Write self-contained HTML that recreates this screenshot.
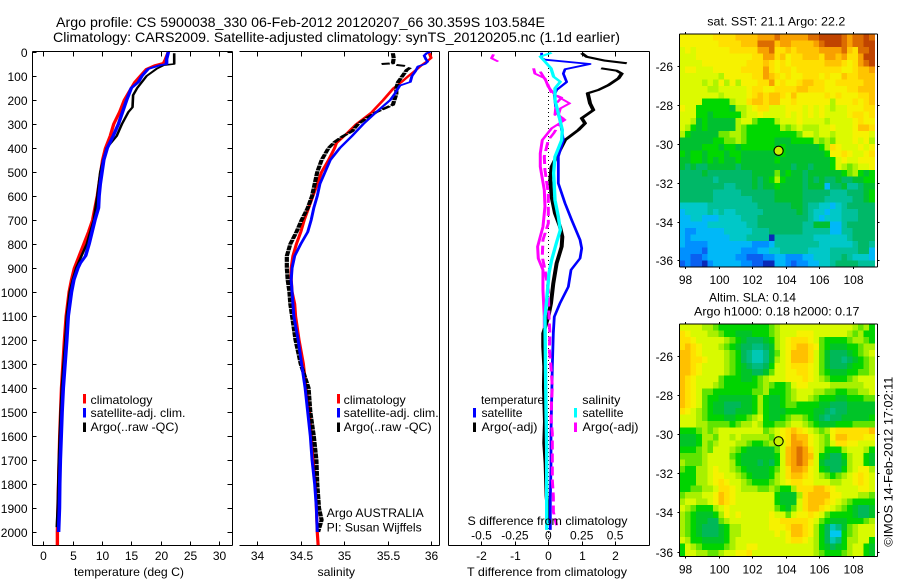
<!DOCTYPE html>
<html><head><meta charset="utf-8"><title>Argo profile</title>
<style>
html,body{margin:0;padding:0;background:#fff}
svg{display:block}
text{font-family:"Liberation Sans",sans-serif;font-size:12px;fill:#000}
.t{font-size:14px}
</style></head><body>
<svg id="chart" xmlns="http://www.w3.org/2000/svg" width="900" height="580" viewBox="0 0 900 580">
<rect x="0" y="0" width="900" height="580" fill="#fff"/>
<text class="t" x="56" y="27" textLength="489" lengthAdjust="spacingAndGlyphs">Argo profile: CS 5900038_330 06-Feb-2012 20120207_66 30.359S 103.584E</text>
<text class="t" x="53" y="42" textLength="567" lengthAdjust="spacingAndGlyphs">Climatology: CARS2009. Satellite-adjusted climatology: synTS_20120205.nc (1.1d earlier)</text>

<g id="axes1"></g>
<g id="axes2"></g>
<g id="axes3"></g>
<g id="lines1"></g>
<g id="lines2"></g>
<g id="lines3"></g>

<text x="74" y="576" textLength="110" lengthAdjust="spacingAndGlyphs">temperature (deg C)</text>
<text x="317.5" y="576" textLength="37.5" lengthAdjust="spacingAndGlyphs">salinity</text>
<text x="467" y="576" textLength="160" lengthAdjust="spacingAndGlyphs">T difference from climatology</text>
<text x="467.5" y="525" textLength="160" lengthAdjust="spacingAndGlyphs">S difference from climatology</text>

<g>
<rect x="83" y="394" width="3" height="9.5" fill="#f00"/>
<text x="90.5" y="404" textLength="62" lengthAdjust="spacingAndGlyphs">climatology</text>
<rect x="83" y="408" width="3" height="9.5" fill="#00f"/>
<text x="90.5" y="417" textLength="95" lengthAdjust="spacingAndGlyphs">satellite-adj. clim.</text>
<rect x="83" y="422.5" width="3" height="9.5" fill="#000"/>
<text x="90.5" y="431" textLength="88" lengthAdjust="spacingAndGlyphs">Argo(..raw -QC)</text>
</g>
<g>
<rect x="337" y="394" width="3" height="9.5" fill="#f00"/>
<text x="343.7" y="404" textLength="62" lengthAdjust="spacingAndGlyphs">climatology</text>
<rect x="337" y="408" width="3" height="9.5" fill="#00f"/>
<text x="343.7" y="417" textLength="95" lengthAdjust="spacingAndGlyphs">satellite-adj. clim.</text>
<rect x="337" y="422.5" width="3" height="9.5" fill="#000"/>
<text x="343.7" y="431" textLength="88" lengthAdjust="spacingAndGlyphs">Argo(..raw -QC)</text>
<text x="326.7" y="517" textLength="97" lengthAdjust="spacingAndGlyphs">Argo AUSTRALIA</text>
<text x="326.7" y="531.5" textLength="95" lengthAdjust="spacingAndGlyphs">PI: Susan Wijffels</text>
</g>

<g id="maps"></g>

<text x="707.3" y="25.7" textLength="138" lengthAdjust="spacingAndGlyphs">sat. SST: 21.1 Argo: 22.2</text>
<text x="709" y="301.7" textLength="87" lengthAdjust="spacingAndGlyphs">Altim. SLA: 0.14</text>
<text x="694" y="315.7" textLength="165.5" lengthAdjust="spacingAndGlyphs">Argo h1000: 0.18 h2000: 0.17</text>
<text transform="translate(892.7,546.7) rotate(-90)" x="0" y="0" textLength="170" lengthAdjust="spacingAndGlyphs">©IMOS 14-Feb-2012 17:02:11</text>

<g>
<text x="481" y="404" textLength="63" lengthAdjust="spacingAndGlyphs">temperature</text>
<text x="582.3" y="404" textLength="38" lengthAdjust="spacingAndGlyphs">salinity</text>
<rect x="473" y="408" width="3" height="9.5" fill="#00f"/>
<text x="481.5" y="417" textLength="41" lengthAdjust="spacingAndGlyphs">satellite</text>
<rect x="473" y="422.5" width="3" height="9.5" fill="#000"/>
<text x="481.5" y="431" textLength="56" lengthAdjust="spacingAndGlyphs">Argo(-adj)</text>
<rect x="574" y="408" width="3" height="9.5" fill="#0ff"/>
<text x="582.5" y="417" textLength="41" lengthAdjust="spacingAndGlyphs">satellite</text>
<rect x="574" y="422.5" width="3" height="9.5" fill="#f0f"/>
<text x="582.5" y="431" textLength="56" lengthAdjust="spacingAndGlyphs">Argo(-adj)</text>
</g>
</svg>
<script>
const depthTicks=[0,100,200,300,400,500,600,700,800,900,1000,1100,1200,1300,1400,1500,1600,1700,1800,1900,2000];
const tempTicks=[0,5,10,15,20,25,30];
const salTicks=[34,34.5,35,35.5,36];
const salTickLabels=["34","34.5","35","35.5","36"];
const tDiffTicks=[-2,-1,0,1,2];
const sDiffTicks=[-0.5,-0.25,0,0.25,0.5];
const sDiffTickLabels=["-0.5","-0.25","0","0.25","0.5"];
const lonTicks=[98,100,102,104,106,108];
const latTicks=[-26,-28,-30,-32,-34,-36];

const tempClimD=[0,30,45,55,70,100,125,150,200,250,300,350,400,450,500,600,700,750,800,850,900,950,1000,1100,1200,1300,1400,1500,1600,1700,1800,1900,2000,2055];
const tempClim=[21.3,20.8,20.5,19,17.6,16.5,15.6,15,13.8,13,12,11.4,10.6,10.1,9.8,9.2,8.4,7.7,6.9,6.1,5.3,4.8,4.4,3.9,3.6,3.35,3.1,2.95,2.8,2.7,2.6,2.5,2.4,2.4];
const tempSatD=[0,30,50,55,70,100,125,150,200,250,300,350,400,450,500,550,600,650,700,750,800,850,880,900,950,1000,1100,1200,1300,1400,1500,1600,1700,1800,1900,2000];
const tempSat=[21.3,21,21,19.9,17.9,16.8,16.2,15,14.2,13.5,12.8,11.9,10.9,10.3,10,9.7,9.5,9.4,8.8,8.3,7.8,7.2,6.3,5.9,5.2,4.8,4.25,4,3.7,3.4,3.2,3.05,2.9,2.8,2.75,2.6];
const tempArgoD=[5,50,55,70,100,125,150,180,230,250,300,350,400,450,500,600,700,800,850,900,950,1000,1100,1200,1300,1400,1500,1600,1700,1800,1900,1980];
const tempArgo=[22.3,22.3,20.5,19.3,17.6,16.8,16,15.3,15.2,14.5,13.4,12.5,10.8,10.2,9.7,9.2,8.6,7.4,6.5,5.6,5,4.5,4,3.75,3.45,3.15,2.95,2.8,2.65,2.55,2.45,2.3];

const salClimD=[5,25,40,55,80,100,125,150,200,250,300,350,380,400,450,500,550,600,650,700,750,800,850,900,950,1000,1050,1100,1200,1300,1400,1500,1600,1700,1800,1900,2000,2055];
const salClim=[35.98,36,35.95,35.89,35.81,35.74,35.66,35.57,35.45,35.32,35.14,35,34.91,34.89,34.82,34.74,34.69,34.64,34.59,34.54,34.5,34.45,34.41,34.39,34.39,34.4,34.43,34.44,34.48,34.53,34.56,34.6,34.62,34.64,34.67,34.68,34.69,34.7];
const salSatD=[0,5,15,30,40,50,60,80,100,125,140,175,200,250,300,350,400,450,500,550,600,650,700,750,800,850,900,950,1000,1100,1200,1300,1400,1500,1600,1700,1800,1900,2000];
const salSat=[35.99,35.95,35.92,35.94,35.96,35.93,35.85,35.82,35.78,35.76,35.64,35.58,35.53,35.37,35.22,35.09,34.95,34.84,34.78,34.72,34.69,34.65,34.62,34.58,34.5,34.43,34.4,34.39,34.4,34.42,34.47,34.51,34.55,34.58,34.61,34.63,34.66,34.68,34.69];
const salArgoD=[5,26,47,50,null,54,58,null,65,75,100,125,150,175,220,250,275,300,330,350,375,400,450,500,550,600,650,700,750,800,850,900,950,1000,1050,1100,1200,1300,1400,1500,1600,1700,1800,1900,1950,2000];
const salArgo=[35.56,35.57,35.56,35.43,null,35.6,35.7,null,35.76,35.72,35.67,35.62,35.6,35.6,35.56,35.37,35.26,35.16,35.09,34.99,34.89,34.82,34.74,34.69,34.66,34.63,34.58,34.51,34.45,34.38,34.34,34.34,34.35,34.37,34.38,34.4,34.44,34.5,34.59,34.61,34.65,34.68,34.69,34.71,34.74,34.7];

const dTempSatD=[3,25,32,50,72,90,125,158,179,228,283,367,436,547,630,700,783,818,860,908,978,1047,1103,1172,1311,1450,1589,1728,1866,1991];
const dTempSat=[-0.2,-0.2,-0.1,1.25,0.5,0.45,0.55,0.25,0.18,0.22,0.35,0.45,0.3,0.3,0.5,0.7,0.95,1,0.95,0.68,0.6,0.35,0.18,0.15,0.12,0.1,0.08,0.08,0.06,0.06];
const dTempArgoD=[5,20,36,47,null,68,78,90,110,138,158,172,214,242,276,297,325,367,408,478,533,603,672,728,770,811,880,964,1047,1103,1172,1228,1311,1394,1540,1630,1714,1850,1964];
const dTempArgo=[1,1.15,1.7,2.35,null,1.58,2.05,2.2,2.1,1.8,1.5,1.18,1.25,1.35,1,1.1,0.9,0.5,0.35,0.1,0.06,0.1,0.2,0.35,0.42,0.4,0.25,0.15,0.08,0,-0.15,-0.15,-0.12,-0.13,-0.1,-0.12,-0.08,-0.05,0.02];
const dSalSatD=[3,19,40,68,103,124,151,200,255,325,367,436,505,617,686,742,797,867,922,1033,1103,1450,1658,1866,1991];
const dSalSat=[0.025,-0.06,-0.025,0.02,0.04,0.09,0.05,0.05,0.075,0.105,0.1,0.05,0.04,0.05,0.075,0.09,0.06,0.025,0.005,-0.012,-0.025,-0.018,-0.012,-0.012,-0.012];
const dSalArgoD=[10,26,40,null,68,90,110,145,179,214,235,262,283,318,367,422,478,575,644,728,811,860,908,992,1103,1150];
const dSalArgo=[-0.41,-0.425,-0.375,null,-0.11,-0.1,-0.025,0,0.05,0.16,0.09,0.075,0.125,0.025,-0.045,-0.06,-0.06,-0.03,-0.025,-0.04,-0.08,-0.075,-0.04,-0.04,-0.03,-0.03];
const dSalRawD=[82,125,172,190,214,262,276,339,367,436,492,589,658,714,783,853,908,992,1103,1172,1241,1311,1394,1450,1519,1589,1644,1714,1783,1853,1916,1972];
const dSalRaw=[-0.06,-0.012,0.025,0.1,0.06,0.05,0.11,0.04,0,-0.03,-0.025,0,0,0,-0.04,-0.045,-0.025,0,0.005,0.012,0.008,0.02,0.03,0.025,0.02,0.03,0.03,0.03,0.03,0.038,0.038,0.062];

const sstGrid=[
[12,12,12,12,12,12,13,13,13,13,14,14,14,14,15,15,15,16,15,15,15,15,15,16,16,17,17,17,17,16,15,16,16,17,16],
[12,12,12,12,12,12,12,13,13,13,13,14,14,14,16,16,16,14,15,15,14,14,14,14,15,16,17,17,17,16,15,16,16,17,17],
[11,12,11,12,12,12,12,12,12,13,13,13,13,13,15,15,16,13,13,14,13,14,14,14,14,15,15,15,15,16,14,13,16,16,17],
[11,11,11,12,12,12,12,12,12,12,12,12,12,13,13,15,15,13,14,12,13,13,14,14,14,13,15,15,14,15,13,13,15,17,17],
[11,11,11,11,12,12,12,12,12,12,12,12,13,13,13,14,13,12,13,12,13,13,13,13,13,13,14,14,14,13,12,13,15,16,17],
[11,12,12,11,11,11,12,12,12,12,12,13,13,13,13,15,13,12,13,13,12,13,13,13,13,13,13,13,13,12,12,13,14,14,15],
[11,11,11,11,11,11,11,10,12,12,12,12,12,13,13,15,14,13,12,13,12,12,13,13,13,12,13,12,12,14,13,13,14,14,14],
[11,11,11,11,10,11,10,12,10,12,10,12,12,12,13,13,15,12,13,12,12,13,14,14,13,13,12,12,13,13,13,13,13,14,14],
[11,11,11,11,11,10,10,11,11,11,11,11,12,13,13,12,12,13,13,13,13,14,14,13,13,13,12,12,12,12,13,13,14,14,14],
[11,11,11,11,11,11,11,10,11,11,11,11,12,13,14,13,14,14,13,12,14,12,12,12,12,12,13,12,13,12,12,12,13,13,14],
[11,11,11,11,8,8,8,8,8,10,11,11,13,14,14,13,14,14,12,12,13,12,12,12,12,12,12,10,12,12,12,13,12,13,14],
[12,11,11,8,8,8,8,8,8,7,10,10,11,12,13,13,11,11,11,12,12,12,11,12,11,12,11,10,11,11,12,12,12,13,13],
[11,11,11,8,8,7,8,8,8,8,8,10,11,11,12,11,11,11,11,12,11,12,11,12,11,12,11,11,11,11,12,13,13,12,13],
[11,11,10,7,8,7,7,7,7,7,10,11,11,9,8,8,8,10,11,11,11,12,11,11,11,11,10,11,11,11,11,12,13,12,12],
[11,10,8,7,8,7,7,7,7,7,10,9,8,8,8,8,8,8,10,9,10,11,10,10,10,11,11,12,11,11,11,12,14,14,13],
[10,8,7,7,7,7,7,9,9,10,10,9,8,8,8,8,8,8,8,8,8,9,11,11,10,11,11,10,11,11,11,12,12,12,11],
[7,7,7,7,7,7,8,8,9,9,10,9,8,8,8,8,8,7,7,7,8,8,8,8,10,9,10,9,11,11,11,12,11,12,10],
[7,7,7,7,8,8,8,7,8,8,7,8,8,8,8,8,8,7,8,7,7,7,7,7,7,8,10,13,12,11,11,11,12,11,12],
[8,7,8,8,7,8,8,8,7,8,8,7,7,7,7,7,7,7,8,7,7,7,7,7,7,7,8,12,12,13,12,11,11,12,13],
[7,7,8,8,7,8,7,8,7,7,8,7,7,7,7,7,7,8,7,7,7,7,7,7,7,7,7,8,11,12,11,11,12,12,12],
[7,6,7,6,6,7,7,7,7,7,6,7,7,7,7,7,7,7,7,7,6,7,7,6,7,7,7,8,11,10,9,10,11,11,12],
[6,6,6,6,7,6,6,6,6,6,6,6,6,7,7,7,7,9,7,8,7,7,6,7,7,7,7,7,7,8,9,10,8,7,8],
[6,6,6,6,6,6,5,6,6,6,6,6,6,7,6,7,8,10,8,7,7,7,6,7,6,7,6,6,7,6,6,7,7,8,8],
[6,6,6,6,6,6,6,6,5,5,6,6,6,7,6,7,7,8,7,7,7,7,6,7,7,7,3,6,6,7,5,5,6,7,7],
[6,6,6,6,6,6,5,5,5,5,5,6,6,6,6,6,6,7,7,7,7,7,6,6,6,6,6,5,5,5,6,6,6,7,8],
[6,6,6,6,6,6,5,5,5,5,5,5,5,6,6,6,6,7,7,7,7,7,6,6,6,6,5,5,5,5,5,6,6,7,8],
[4,4,4,4,4,5,5,5,5,5,5,5,5,5,6,6,6,6,6,6,7,7,6,5,5,4,4,3,4,5,6,6,6,6,6],
[3,4,4,4,4,5,4,5,4,4,5,5,5,5,5,6,6,6,6,6,6,7,6,5,4,4,3,4,4,5,5,5,6,6,6],
[3,3,4,4,3,3,3,4,4,4,4,5,5,5,6,6,6,6,6,6,6,6,6,5,4,3,4,4,4,5,5,5,6,6,6],
[3,3,3,3,3,4,4,4,4,4,4,4,5,5,6,6,6,6,6,6,6,6,5,5,7,7,7,3,3,5,6,6,6,6,6],
[3,2,2,3,3,3,3,3,4,4,4,4,4,5,5,5,6,6,6,6,6,6,5,5,5,5,5,3,3,5,5,6,6,6,6],
[3,2,3,3,3,3,3,3,3,4,4,4,5,5,5,5,0,5,5,5,5,5,5,5,4,4,4,4,4,4,5,6,6,6,6],
[3,2,2,2,2,3,3,3,3,3,3,3,3,2,2,2,3,5,5,5,5,5,5,5,5,4,4,4,4,4,4,5,6,6,5],
[2,2,2,2,1,3,3,3,3,3,3,2,2,2,3,3,4,4,5,5,5,5,5,4,4,4,4,5,5,5,5,5,6,6,3],
[2,2,1,1,2,3,3,3,3,3,2,2,1,1,1,2,2,3,3,2,2,2,3,3,4,4,4,5,5,6,5,4,4,4,3],
[1,2,1,1,0,2,3,3,3,3,3,2,2,1,1,0,0,3,3,2,1,2,2,3,3,4,4,5,6,6,6,6,5,5,5]
];

const slaGrid=[
[11,11,11,11,10,10,9,8,8,8,8,8,8,8,8,8,9,10,11,11,11,11,11,11,11,11,11,11,11,11,11,10,9,10,8],
[13,12,11,11,11,10,10,9,8,8,7,7,7,8,8,8,9,10,11,11,11,12,12,12,11,11,11,11,11,11,10,9,10,8,8],
[13,13,12,11,11,11,11,11,10,9,8,7,6,6,6,7,8,10,11,12,13,13,13,12,11,9,8,8,8,8,9,10,10,9,8],
[13,14,13,12,11,11,11,10,9,8,7,6,6,5,5,6,7,10,11,12,13,14,14,13,12,9,8,7,7,7,8,8,9,10,10],
[14,14,13,12,11,11,11,11,10,9,8,6,5,4,4,5,7,9,11,12,14,14,14,13,11,9,7,6,6,6,7,8,9,10,11],
[14,14,13,13,12,11,11,11,10,9,8,6,5,4,4,5,7,10,11,12,14,14,14,13,11,9,7,6,6,5,6,7,8,9,10],
[14,14,13,12,11,11,11,11,10,9,8,7,6,5,5,6,8,11,11,12,13,13,13,12,11,9,7,6,6,6,7,8,8,9,10],
[14,14,13,12,11,11,11,11,10,9,8,7,7,6,6,7,9,11,11,12,12,13,13,12,11,9,8,7,7,7,8,8,9,9,10],
[14,13,12,11,11,11,11,9,8,8,8,7,7,8,9,10,11,11,11,12,12,12,13,12,11,10,9,8,8,8,9,10,11,11,11],
[14,13,12,11,11,11,10,9,8,8,8,8,8,8,9,10,9,8,8,9,11,12,12,11,11,11,11,10,10,10,10,10,10,11,11],
[14,13,12,11,9,9,8,8,8,8,8,8,8,9,9,10,8,8,8,9,10,11,11,11,10,10,9,9,8,8,9,9,10,10,11],
[14,13,12,11,9,8,8,7,7,7,7,7,7,8,10,8,7,7,8,9,10,11,11,10,9,8,8,8,7,7,8,8,8,9,9],
[14,13,12,11,9,8,7,7,6,6,6,7,7,8,10,8,7,7,8,9,9,8,8,8,8,7,7,6,6,6,7,7,7,7,7],
[13,12,11,10,9,8,7,7,6,6,7,7,7,8,10,8,7,7,7,8,8,8,8,8,7,7,6,5,6,6,7,7,7,7,7],
[11,11,11,10,9,8,8,8,7,7,8,8,9,10,11,8,7,7,8,9,10,10,9,8,7,6,5,6,6,7,7,7,7,7,8],
[11,11,11,10,10,9,9,9,9,8,9,10,10,11,10,8,8,9,9,10,11,11,10,9,8,7,7,7,8,8,8,9,9,9,9],
[8,8,8,9,10,9,10,11,11,11,11,11,11,11,11,9,10,11,12,13,14,13,12,11,10,9,10,12,13,13,13,13,13,13,14],
[7,7,7,8,10,10,9,11,11,10,11,10,10,10,10,10,9,11,12,13,15,14,14,12,11,10,9,12,14,14,13,13,13,12,12],
[7,7,7,8,10,9,10,11,11,11,10,10,9,8,8,9,10,9,11,13,15,15,14,12,11,10,9,11,13,13,12,12,11,11,11],
[8,8,8,9,10,9,11,11,11,10,9,8,7,7,7,7,7,9,11,14,15,16,15,13,11,10,8,8,8,10,11,11,11,10,8],
[9,9,9,9,10,11,11,11,11,9,8,7,7,7,7,7,7,8,11,14,15,16,15,14,11,8,7,6,6,8,10,11,11,8,7],
[10,9,9,9,10,11,11,11,11,10,8,7,7,7,6,7,6,8,11,14,15,16,15,13,11,7,6,6,6,7,10,11,11,8,7],
[9,8,8,10,10,11,12,11,11,10,9,8,7,7,7,7,8,9,11,13,15,15,14,12,11,8,7,6,6,8,10,11,12,12,10],
[8,8,8,10,10,11,12,12,11,11,10,9,8,7,7,7,8,10,11,13,14,14,13,12,11,10,9,8,9,10,11,12,13,12,11],
[8,8,8,10,10,11,12,13,12,11,11,10,9,8,8,8,9,10,11,12,13,13,12,12,11,11,11,10,10,11,11,12,13,12,11],
[8,8,9,9,10,10,11,13,13,12,11,10,10,10,9,9,10,9,8,8,10,13,13,13,14,14,13,12,11,11,11,11,12,12,11],
[9,10,10,10,11,11,12,14,13,12,11,11,11,11,11,11,11,8,7,7,7,10,13,14,14,14,14,12,12,11,11,11,10,10,9],
[10,11,11,10,10,11,12,14,13,12,11,11,11,11,11,11,11,8,7,7,7,11,13,14,14,14,13,12,11,10,9,8,8,8,8],
[11,10,9,8,8,8,10,11,12,11,11,11,11,11,11,11,11,9,8,7,9,11,13,14,14,13,12,11,10,9,8,7,6,6,7],
[10,9,8,7,7,7,8,10,12,11,12,11,11,11,11,11,12,11,11,9,11,12,12,13,12,11,9,8,8,8,8,7,6,6,7],
[10,9,8,7,7,6,6,9,10,11,11,11,11,11,11,11,12,12,13,13,13,13,13,12,11,9,8,7,7,7,8,8,8,9,10],
[10,9,8,7,6,6,6,7,8,10,10,11,11,11,11,11,12,12,12,13,14,14,13,12,10,8,6,4,5,7,9,10,11,11,11],
[10,9,8,7,6,6,6,7,8,10,10,11,11,11,11,11,11,12,11,12,14,14,13,12,10,8,6,3,3,8,9,10,11,11,11],
[11,10,8,8,7,7,7,7,8,10,11,11,11,11,11,11,11,11,11,12,13,13,12,11,10,8,6,4,5,8,10,10,11,11,8],
[8,11,10,9,8,8,8,8,9,10,11,11,12,12,11,11,11,11,11,11,11,11,11,11,10,8,7,6,7,8,10,11,11,8,7],
[8,11,11,10,10,9,9,10,11,11,12,12,13,11,11,11,11,11,11,11,11,11,11,11,10,9,8,8,8,9,10,11,11,8,7]
];
const sstColorLevels=["#0a2ab8","#0a60f0","#0090ff","#00b8f8","#00c8c8","#00c09a","#00b868","#00c030","#00d800","#70e800","#b0f400","#dcfa00","#f6f200","#ffe000","#ffc400","#f8a000","#dc6c00","#c04400"];
const slaColorLevels=["#0a2ab8","#0a60f0","#0090ff","#00c8f0","#00c8b4","#00bc80","#00b858","#00c428","#00d400","#60e400","#a8f000","#d8fa00","#f6f200","#ffe000","#ffc000","#f8a000","#dc7000","#c04400"];

const svg=document.getElementById('chart');
const NS='http://www.w3.org/2000/svg';
function make(tag,parent,attrs){const e=document.createElementNS(NS,tag);for(const k in attrs)e.setAttribute(k,attrs[k]);parent.appendChild(e);return e;}

const plotTop=51.5,plotBottom=545.5;
function yD(d){return 52+0.24*d;}
function xTemp(v){return 43.3+5.87*v;}
function xSal(v){return 257.3+86.9*(v-34);}
function xDT(v){return 548.3+33.4*v;}
function xDS(v){return 548.3+133.6*v;}
function lonX(v){return 685+16.76*(v-98);}
function latY1(v){return 66+19.44*(-26-v);}
function latY2(v){return 356+19.56*(-26-v);}

function segment(parent,x1,y1,x2,y2){
  const l=make('line',parent,{x1:x1,y1:y1,x2:x2,y2:y2,stroke:'#000','stroke-width':1,'shape-rendering':'crispEdges'});
  
  
}
function label(parent,x,y,str,anchor){
  const t=make('text',parent,{x:x,y:y,'text-anchor':anchor});
  t.textContent=str;
  
  
}
function xAxis(parent,ticks,names,fn,left,right,withBottom,baseline){
  segment(parent,left,plotTop,right,plotTop);
  segment(parent,left,plotBottom,right,plotBottom);
  ticks.forEach(function(v,i){
    const x=Math.round(fn(v))+0.5;
    segment(parent,x,plotTop,x,plotTop+5);
    if(withBottom)segment(parent,x,plotBottom,x,plotBottom-4);
    label(parent,x,baseline,names?names[i]:String(v),'middle');
  });
}

const a1=document.getElementById('axes1'),a2=document.getElementById('axes2'),a3=document.getElementById('axes3');
xAxis(a1,tempTicks,null,xTemp,32.5,232.5,true,560);
segment(a1,32.5,plotTop,32.5,plotBottom);
segment(a1,232.5,plotTop,232.5,plotBottom);
depthTicks.forEach(function(d){
  const y=Math.round(yD(d))+0.5;
  segment(a1,32.5,y,36.5,y);
  segment(a1,232.5,y,227.5,y);
  label(a1,27.5,y+4.5,String(d),'end');
});
xAxis(a2,salTicks,salTickLabels,xSal,239.5,439.5,true,560);
segment(a2,439.5,plotTop,439.5,plotBottom);
xAxis(a3,tDiffTicks,null,xDT,448.5,649.5,true,560);
segment(a3,448.5,plotTop,448.5,plotBottom);
segment(a3,649.5,plotTop,649.5,plotBottom);
sDiffTicks.forEach(function(v,i){label(a3,xDS(v),539.3,sDiffTickLabels[i],'middle');});
const zeroLine=make('line',a3,{x1:548.5,y1:52,x2:548.5,y2:545,stroke:'#000','stroke-width':1,'stroke-dasharray':'1 3','shape-rendering':'crispEdges'});



function drawLine(parent,vals,depths,fn,color,penW,penH,dash,name){
  const sx=penW/penH;
  let d='',pen=false;
  vals.forEach(function(v,i){
    if(v===null||depths[i]===null){pen=false;return;}
    d+=(pen?'L':'M')+(fn(v)/sx).toFixed(2)+' '+yD(depths[i]).toFixed(2);
    pen=true;
  });
  const p=make('path',parent,{d:d,fill:'none',stroke:color,'stroke-width':penH,'stroke-linejoin':'round','stroke-linecap':'butt',transform:'scale('+sx+',1)'});
  if(dash)p.setAttribute('stroke-dasharray',dash);
  
  
}
const l1=document.getElementById('lines1'),l2=document.getElementById('lines2'),l3=document.getElementById('lines3');
drawLine(l1,tempClim,tempClimD,xTemp,'#f00',3.4,1.8,null,'temperature-climatology-line');
drawLine(l1,tempArgo,tempArgoD,xTemp,'#000',2.6,1.6,null,'temperature-argo-line');
drawLine(l1,tempSat,tempSatD,xTemp,'#00f',3.6,1.8,null,'temperature-satellite-line');
drawLine(l2,salClim,salClimD,xSal,'#f00',3.2,1.6,null,'salinity-climatology-line');
drawLine(l2,salArgo,salArgoD,xSal,'#000',4.2,2,'5 0.8','salinity-argo-line');
drawLine(l2,salSat,salSatD,xSal,'#00f',3,1.6,null,'salinity-satellite-line');
drawLine(l3,dTempArgo,dTempArgoD,xDT,'#000',4,2,null,'t-difference-argo-line');
drawLine(l3,dTempSat,dTempSatD,xDT,'#00f',2.8,1.8,null,'t-difference-satellite-line');
drawLine(l3,dSalArgo,dSalArgoD,xDS,'#f0f',3,1.6,null,'s-difference-argo-line');
drawLine(l3,dSalRaw,dSalRawD,xDS,'#f0f',3,1.6,'9 4','s-difference-raw-line');
drawLine(l3,dSalSat,dSalSatD,xDS,'#0ff',3.4,1.8,null,'s-difference-satellite-line');

function drawMap(grid,palette,top,bottom,latFn,cellName,argoLon,argoLat,fill,mapName){
  const maps=document.getElementById('maps');
  const g=make('g',maps,{});
  
  
  const left=679.5,cw=5.58,ch=(bottom-top)/grid.length;
  grid.forEach(function(row,r){
    row.forEach(function(v,c){
      const cell=make('rect',g,{x:left+c*cw,y:top+r*ch,width:cw+0.3,height:ch+0.3,fill:palette[v],'shape-rendering':'crispEdges'});
      
      
    });
  });
  segment(g,679.5,top,877.5,top);
  segment(g,679.5,bottom,877.5,bottom);
  segment(g,679.5,top,679.5,bottom);
  segment(g,877.5,top,877.5,bottom);
  lonTicks.forEach(function(v){
    const x=Math.round(lonX(v))+0.5;
    segment(g,x,top,x,top-2);
    segment(g,x,bottom,x,bottom+2);
    label(g,x,bottom+17,String(v),'middle');
  });
  latTicks.forEach(function(v){
    const y=Math.round(latFn(v))+0.5;
    segment(g,679.5,y,677.5,y);
    segment(g,877.5,y,879.5,y);
    label(g,673,y+4.5,String(v),'end');
  });
  const dot=make('circle',g,{cx:lonX(argoLon),cy:latFn(argoLat),r:4.6,fill:fill,stroke:'#000','stroke-width':1.1});
  
  
}
drawMap(sstGrid,sstColorLevels,34,267,latY1,'sst-cell',103.584,-30.359,'#c8f000','sst-map');
drawMap(slaGrid,slaColorLevels,324,556.5,latY2,'sla-cell',103.584,-30.359,'#c8f000','sla-map');
</script>
</body></html>
